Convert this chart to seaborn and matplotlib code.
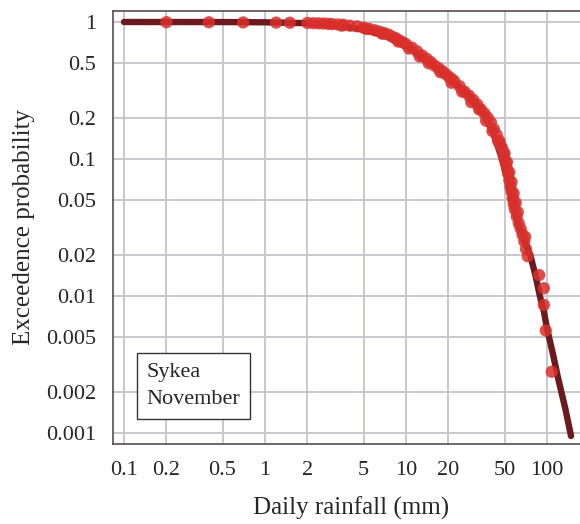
import numpy as np
import pandas as pd
import seaborn as sns
import matplotlib.pyplot as plt

# fitted exceedance curve
curve_rain = [0.1, 0.5, 1, 2, 3, 5, 7, 10, 15, 20, 25, 30, 37, 43, 48, 52, 56,
              62, 68, 76, 83, 89, 95, 100, 110, 120, 135, 148]
curve_prob = [1.0, 0.999, 0.995, 0.98, 0.95, 0.88, 0.80, 0.67, 0.50, 0.40, 0.32,
              0.27, 0.20, 0.14, 0.10, 0.075, 0.05, 0.035, 0.026, 0.02, 0.014,
              0.01, 0.0077, 0.0058, 0.0038, 0.0025, 0.0015, 0.00095]

# observed daily rainfall, November (empirical exceedance)
obs_rain = [0.2, 0.4, 0.7, 1.2, 1.5, 2.0, 2.2, 2.4, 2.6, 2.8, 3.0, 3.3, 3.6, 4.0,
            4.5, 5.0, 5.5, 6.0, 6.5, 7.0, 7.5, 8.0, 8.5, 9.0, 9.5, 10, 11, 12,
            13, 14, 15, 16, 17, 18, 19, 20, 21, 22, 24, 26, 28, 30, 32, 34, 36,
            38, 40, 42, 44, 46, 48, 49, 50, 51, 52, 53, 54, 55, 56, 57, 58, 59,
            61, 63, 65, 67, 69, 71, 73, 88, 95, 95, 98, 108,
            # second row of points that thickens the dense band
            3.5, 5.2, 6.8, 8.8, 10.5, 12.5, 14.5, 17.5, 21, 25, 29, 33, 37, 41,
            45, 47, 50, 52, 54, 56, 58, 60, 62, 70]
obs_prob = [0.997, 0.995, 0.993, 0.99, 0.988, 0.985, 0.98, 0.978, 0.975, 0.97,
            0.965, 0.96, 0.955, 0.94, 0.93, 0.91, 0.89, 0.87, 0.85, 0.83, 0.81,
            0.78, 0.76, 0.73, 0.71, 0.69, 0.65, 0.61, 0.57, 0.54, 0.51, 0.48,
            0.46, 0.44, 0.42, 0.40, 0.385, 0.37, 0.34, 0.31, 0.29, 0.27, 0.25,
            0.23, 0.215, 0.20, 0.185, 0.165, 0.15, 0.135, 0.12, 0.11, 0.10,
            0.093, 0.085, 0.078, 0.07, 0.063, 0.058, 0.052, 0.047, 0.043, 0.038,
            0.034, 0.031, 0.028, 0.025, 0.022, 0.0195, 0.0142, 0.0114, 0.0086,
            0.0056, 0.0028,
            0.94, 0.89, 0.82, 0.72, 0.64, 0.56, 0.50, 0.43, 0.36, 0.31, 0.26,
            0.23, 0.19, 0.16, 0.135, 0.125, 0.11, 0.095, 0.08, 0.068, 0.056,
            0.048, 0.041, 0.027]

xticks = [0.1, 0.2, 0.5, 1, 2, 5, 10, 20, 50, 100]
yticks = [1, 0.5, 0.2, 0.1, 0.05, 0.02, 0.01, 0.005, 0.002, 0.001]

curve = pd.DataFrame({'rain': curve_rain, 'prob': curve_prob})
obs = pd.DataFrame({'rain': obs_rain, 'prob': obs_prob})

sns.set_style('white')
plt.rcParams['font.family'] = ['Liberation Serif', 'DejaVu Serif']

fig = plt.figure(figsize=(5.8, 5.24), dpi=100)
ax = fig.add_axes([0.1943, 0.1527, 0.822, 0.8263])

sns.lineplot(data=curve, x='rain', y='prob', color='#6b1b1e', linewidth=4.6,
             ax=ax, zorder=3)
sns.scatterplot(data=obs, x='rain', y='prob', color='#d9302c', alpha=0.85,
                s=78, edgecolor='none', ax=ax, zorder=4)

ax.set_xscale('log')
ax.set_yscale('log')
ax.set_xlim(0.0832, 200)
ax.set_ylim(0.000831, 1.203)
ax.set_xticks(xticks)
ax.set_xticklabels([f'{v:g}' for v in xticks])
ax.set_yticks(yticks)
ax.set_yticklabels([f'{v:g}' for v in yticks])
ax.minorticks_off()
ax.grid(True, color='#c3c3cb', linewidth=1.3)
ax.set_axisbelow(True)
ax.tick_params(direction='in', length=6, width=1, color='#555555',
               labelsize=16, pad=12)
for s in ax.spines.values():
    s.set_color('#5a4c4c')
    s.set_linewidth(1.2)

ax.set_xlabel('Daily rainfall (mm)', fontsize=18, labelpad=12)
ax.set_ylabel('Exceedence probability', fontsize=18, labelpad=8)

ax.text(0.145, 0.0022, 'Sykea\nNovember', fontsize=16, va='center', ha='left',
        linespacing=1.55, zorder=5,
        bbox=dict(boxstyle='square,pad=0.45', facecolor='white',
                  edgecolor='#333333', linewidth=1))

fig.savefig('out.png', dpi=100)
